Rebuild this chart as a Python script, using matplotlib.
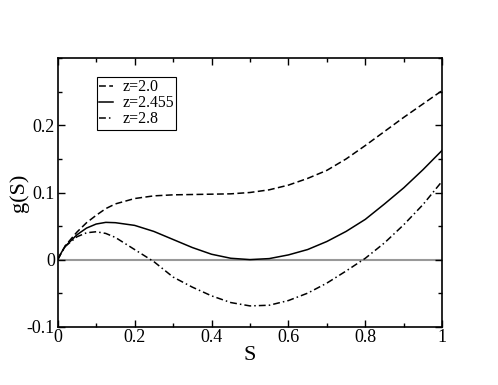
import numpy as np
from matplotlib import pyplot as plt
from matplotlib.ticker import MultipleLocator

# values
S = [0.0, 0.01, 0.02, 0.05, 0.075, 0.1, 0.125, 0.15, 0.2, 0.25, 0.3, 0.35, 0.4,
     0.45, 0.5, 0.55, 0.6, 0.65, 0.7, 0.75, 0.8, 0.85, 0.9, 0.95, 1.0]
g_z20 = [0.0, 0.011, 0.021, 0.041, 0.055, 0.066, 0.076, 0.083, 0.091, 0.095, 0.0965,
         0.097, 0.0975, 0.098, 0.100, 0.104, 0.111, 0.121, 0.133, 0.150, 0.170,
         0.191, 0.212, 0.232, 0.252]
g_z2455 = [0.0, 0.011, 0.020, 0.037, 0.047, 0.053, 0.0555, 0.055, 0.051, 0.042, 0.030,
           0.018, 0.008, 0.002, 0.0, 0.0015, 0.007, 0.015, 0.027, 0.042, 0.060,
           0.083, 0.107, 0.134, 0.163]
g_z28 = [0.0, 0.011, 0.020, 0.034, 0.040, 0.0415, 0.039, 0.033, 0.015, -0.003, -0.026,
         -0.041, -0.054, -0.064, -0.069, -0.068, -0.061, -0.050, -0.035, -0.017,
         0.002, 0.025, 0.052, 0.082, 0.117]
labels = ["z=2.0", "z=2.455", "z=2.8"]

plt.rcParams['font.family'] = ['Liberation Serif', 'DejaVu Serif']

fig = plt.figure(figsize=(4.98, 3.85), dpi=100)
ax = fig.add_axes([0.1159, 0.1514, 0.7721, 0.6972])

ax.axhline(0, color='#999999', lw=1.5, zorder=1)
ax.plot(S, g_z20, color='black', lw=1.1, dashes=(4.5, 2.2), label=labels[0])
ax.plot(S, g_z2455, color='black', lw=1.1, label=labels[1])
ax.plot(S, g_z28, color='black', lw=1.1, dashes=(4.5, 2.0, 1.0, 2.0), label=labels[2])

ax.set_xlim(0, 1)
ax.set_ylim(-0.1, 0.3)
ax.xaxis.set_minor_locator(MultipleLocator(0.1))
ax.yaxis.set_minor_locator(MultipleLocator(0.05))
ax.set_xticks([0, 0.2, 0.4, 0.6, 0.8, 1.0])
ax.set_xticklabels(["0", "0.2", "0.4", "0.6", "0.8", "1"])
ax.set_yticks([-0.1, 0, 0.1, 0.2])
ax.set_yticklabels(["-0.1", "0", "0.1", "0.2"])
ax.tick_params(which='both', direction='in', top=True, right=True, width=1, labelsize=13)
ax.tick_params(which='major', length=5, pad=2)
ax.tick_params(which='minor', length=3)
for sp in ax.spines.values():
    sp.set_linewidth(1.2)

ax.set_xlabel("S", fontsize=16, labelpad=0)
ax.set_ylabel("g(S)", fontsize=16, labelpad=-2)

leg = ax.legend(loc='upper left', bbox_to_anchor=(0.102, 0.930), borderaxespad=0,
                fontsize=11.4, handlelength=0.85, labelspacing=0.0, handletextpad=0.6,
                borderpad=0.15, fancybox=False, framealpha=1)
leg.get_frame().set_edgecolor('black')
leg.get_frame().set_linewidth(0.8)

fig.savefig("out.png", dpi=100)
